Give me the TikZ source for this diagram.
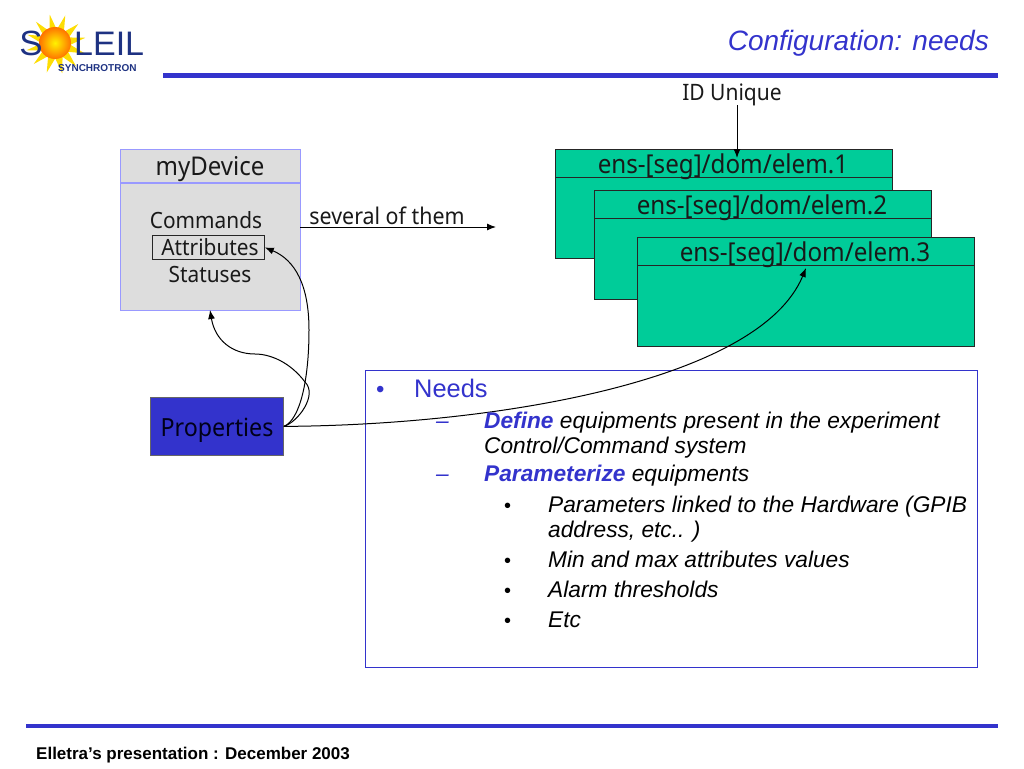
\documentclass[tikz,border=0pt]{standalone}
\usepackage{fontspec}
\usetikzlibrary{arrows.meta}
\setmainfont{Liberation Sans}
\newfontfamily\boxfont[FakeStretch=0.93]{Noto Sans}
\definecolor{rulecol}{RGB}{51,51,204}
\definecolor{lilac}{RGB}{153,153,255}
\definecolor{greybox}{RGB}{221,221,221}
\definecolor{greenbox}{RGB}{0,204,153}
\definecolor{logoblue}{RGB}{30,50,130}
\tikzset{
  boxlabel/.style={anchor=base,font=\boxfont\fontsize{24}{24}\selectfont,inner sep=0pt,text=black!90},
  textline/.style={anchor=base west,inner sep=0pt,font=\fontsize{22.7}{24}\selectfont\itshape},
  dotline/.style={anchor=base west,inner sep=0pt,font=\fontsize{20}{24}\selectfont},
  elembox/.style={draw=black!85,fill=greenbox,line width=1pt,anchor=north west,inner sep=0pt,minimum width=337pt,minimum height=109pt},
  conn/.style={-{Latex[length=9pt,width=7pt]},line width=1pt,black}
}
\begin{document}
\begin{tikzpicture}[x=1pt,y=-1pt]
\useasboundingbox (0,0) rectangle (1024,768);
%Logo
\foreach \a in {0,30,...,330}
  \fill [yellow!80!orange,shift={(56,44)},rotate=\a+12] (-7,0) -- (0,-30) -- (7,0) -- cycle;
\shade [inner color=yellow!90!orange,outer color=orange!90!red] (55,43) circle (16);
\node (logoS) [anchor=base,inner sep=0pt,text=logoblue,font=\fontsize{35}{35}\selectfont] at (31,56) {S};
\node (logoL) [anchor=base west,inner sep=0pt,text=logoblue,font=\fontsize{34}{34}\selectfont] at (74,56) {LEIL};
\node (logoS2) [anchor=base west,inner sep=0pt,text=logoblue,font=\bfseries\fontsize{10}{10}\selectfont] at (58,71) {SYNCHROTRON};
%Title and rules
\node (title) [anchor=base east,inner sep=0pt,text=rulecol,font=\fontsize{28}{30}\selectfont\itshape] at (989,50) {Configuration: needs};
\fill [rulecol] (163,73) rectangle (998,77.5);
\fill [rulecol] (26,723.5) rectangle (998,727.5);
\node (footer) [anchor=base west,inner sep=0pt,font=\bfseries\fontsize{17}{18}\selectfont] at (36,759) {Elletra’s presentation : December 2003};
%Device
\node (device) [draw=lilac,fill=greybox,line width=1.2pt,anchor=north west,inner sep=0pt,minimum width=180pt,minimum height=161pt] at (120,149) {};
\draw [lilac,line width=1.2pt] (120,183) -- (300,183);
\node (devname) [boxlabel,font=\boxfont\fontsize{25.8}{26}\selectfont] at (210,175) {myDevice};
\node (commands) [boxlabel,font=\boxfont\fontsize{22.4}{24}\selectfont] at (206,228) {Commands};
\node (attributes) [draw=black!85,line width=0.8pt,anchor=north west,inner sep=0pt,minimum width=112pt,minimum height=24pt] at (152,235) {};
\node (attrtext) [boxlabel,font=\boxfont\fontsize{22.4}{24}\selectfont] at (210,255) {Attributes};
\node (statuses) [boxlabel,font=\boxfont\fontsize{22.4}{24}\selectfont] at (210,282) {Statuses};
\coordinate (sev) at (300,227);
\coordinate (sevend) at (496,227);
\draw [conn] (sev) -- (sevend);
\node (several) [boxlabel,font=\boxfont\fontsize{23}{24}\selectfont] at (387,224) {several of them};
%Elements
\node (idtext) [boxlabel,font=\boxfont\fontsize{22.6}{24}\selectfont] at (732,100) {ID Unique};
\foreach \nm/\x/\y/\n in {elema/555/149/1,elemb/594/190/2,elemc/637/237/3}{
  \node (\nm) [elembox] at (\x,\y) {};
  \draw [black!85,line width=0.8pt] (\x,\y+28) -- (\x+337,\y+28);
  \node (\nm t) [boxlabel,font=\boxfont\fontsize{26}{26}\selectfont] at (\x+168,\y+24.5) {ens-[seg]/dom/elem.\n};
}
\coordinate (idend) at (737,158);
\draw [conn] (737,105) -- (idend);
%Properties
\node (props) [draw=black!60,fill=rulecol,line width=0.8pt,anchor=north west,inner sep=0pt,minimum width=133pt,minimum height=58pt] at (150,397) {};
\node (proptext) [boxlabel,text=black!90!blue,font=\boxfont\fontsize{25}{25}\selectfont] at (217,436) {Properties};
\coordinate (devbot) at (210,310);
\coordinate (elemtgt) at (806,268);
\draw [conn] (props.east) .. controls (300,420) and (309,380) .. (309,330) .. controls (309,285) and (295,260) .. (attributes.east);
\draw [conn] (props.east) .. controls (298,422) and (318,395) .. (305,382) .. controls (290,362) and (270,354) .. (255,354) .. controls (232,354) and (215,340) .. (devbot);
%Needs
\node (needs) [draw=rulecol,line width=1.3pt,anchor=north west,inner sep=0pt,minimum width=612pt,minimum height=297pt] at (365,370) {};
\draw [conn] (props.east) .. controls (500,425) and (760,380) .. (elemtgt);
\node (b0) [dotline,text=rulecol,font=\fontsize{24}{26}\selectfont] at (376,397) {•};
\node (t0) [textline,text=rulecol,font=\fontsize{25.4}{26}\selectfont] at (414,397) {Needs};
\node (b1) [textline,text=rulecol] at (436,428) {–};
\node (t1) [textline] at (484,428) {\textcolor{rulecol}{\bfseries Define} equipments present in the experiment};
\node (t1b) [textline] at (484,453) {Control/Command system};
\node (b2) [textline,text=rulecol] at (436,481) {–};
\node (t2) [textline] at (484,481) {\textcolor{rulecol}{\bfseries Parameterize} equipments};
\node (b3) [dotline] at (504,512) {•};
\node (t3) [textline] at (548,512) {Parameters linked to the Hardware (GPIB};
\node (t3b) [textline] at (548,537) {address, etc.. )};
\node (b4) [dotline] at (504,567) {•};
\node (t4) [textline] at (548,567) {Min and max attributes values};
\node (b5) [dotline] at (504,597) {•};
\node (t5) [textline] at (548,597) {Alarm thresholds};
\node (b6) [dotline] at (504,627) {•};
\node (t6) [textline] at (548,627) {Etc};
\end{tikzpicture}
\end{document}
